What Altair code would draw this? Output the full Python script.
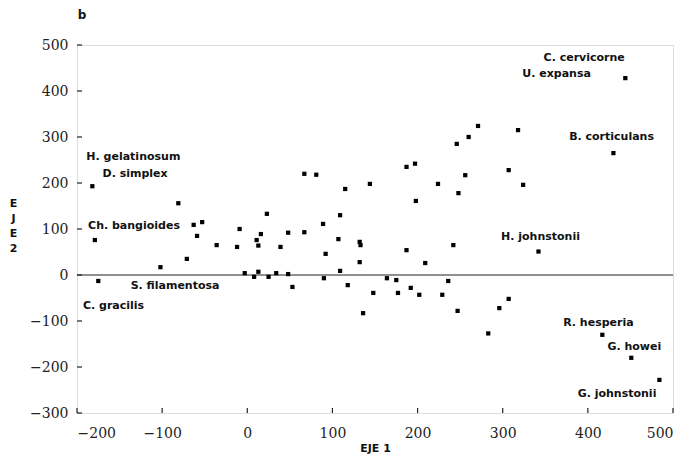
import altair as alt
import pandas as pd

# --- data ---
eje1 = [-182, -179, -175, -102, -81, -71, -63, -59, -53, -36, -12, -9, -3, 8, 13, 11, 13, 16, 23, 25,
        34, 39, 48, 48, 53, 67, 67, 81, 89, 92, 90, 109, 107, 109, 115, 118, 132, 133, 132, 144,
        148, 136, 164, 175, 177, 187, 187, 192, 197, 198, 202, 209, 224, 229, 236, 242, 248, 247,
        246, 256, 260, 271, 283, 296, 307, 307, 318, 324, 342, 417, 430, 444, 451, 484]
eje2 = [193, 76, -13, 17, 156, 35, 109, 85, 115, 65, 61, 100, 4, -4, 7, 76, 64, 89, 133, -4,
        4, 61, 92, 2, -26, 220, 93, 218, 111, 46, -7, 130, 78, 9, 187, -22, 72, 65, 28, 198,
        -39, -83, -7, -11, -39, 235, 54, -28, 242, 161, -43, 26, 198, -43, -13, 65, 178, -78,
        285, 217, 300, 324, -127, -72, -52, 228, 315, 196, 51, -130, 265, 428, -180, -228]

species = ["H. gelatinosum", "D. simplex", "Ch. bangioides", "S. filamentosa", "C. gracilis",
           "C. cervicorne", "U. expansa", "B. corticulans", "H. johnstonii", "R. hesperia",
           "G. howei", "G. johnstonii"]
label_x = [-189, -170, -187, -137, -193, 348, 323, 378, 298, 371, 423, 388]
label_y = [257, 220, 107, -24, -67, 472, 437, 300, 83, -104, -156, -259]

x_ticks = [-200, -100, 0, 100, 200, 300, 400, 500]
y_ticks = [-300, -200, -100, 0, 100, 200, 300, 400, 500]

W, H = 596, 368

pts = pd.DataFrame({"eje1": eje1, "eje2": eje2})
labs = pd.DataFrame({"name": species, "lx": label_x, "ly": label_y})
xt = pd.DataFrame({"t": x_ticks})
yt = pd.DataFrame({"t": y_ticks})
zero = pd.DataFrame({"z": [0]})

xscale = alt.Scale(domain=[-200, 500], nice=False, zero=False)
yscale = alt.Scale(domain=[-300, 500], nice=False, zero=False)

tick_font = "DejaVu Serif"
lab_font = "DejaVu Sans"

xaxis = alt.Axis(values=x_ticks, title="EJE 1", grid=False, domain=False, ticks=False,
                 labelFont=tick_font, labelFontSize=14, labelColor="#222", labelPadding=13,
                 titleFont=lab_font, titleFontSize=11, titleFontWeight="bold", titleColor="#111",
                 titleY=29, titleBaseline="top")
yaxis = alt.Axis(values=y_ticks, title=["E", "J", "E", "2"], grid=False, domain=False, ticks=False,
                 labelFont=tick_font, labelFontSize=14, labelColor="#222", labelPadding=9,
                 titleFont=lab_font, titleFontSize=11, titleFontWeight="bold", titleColor="#111",
                 titleAngle=0, titleX=-64, titleY=152, titleBaseline="top", titleAlign="center",
                 titleLineHeight=15)

points = alt.Chart(pts).mark_square(size=18, color="black", opacity=1).encode(
    x=alt.X("eje1:Q", scale=xscale, axis=xaxis),
    y=alt.Y("eje2:Q", scale=yscale, axis=yaxis),
)

labels = alt.Chart(labs).mark_text(
    align="left", baseline="middle", font=lab_font, fontSize=11, fontWeight="bold", color="#111"
).encode(
    x=alt.X("lx:Q", scale=xscale),
    y=alt.Y("ly:Q", scale=yscale),
    text="name:N",
)

zline = alt.Chart(zero).mark_rule(color="#222", strokeWidth=1.2).encode(
    y=alt.Y("z:Q", scale=yscale)
)

xticks = alt.Chart(xt).mark_rule(color="#222", strokeWidth=1.2).encode(
    x=alt.X("t:Q", scale=xscale), y=alt.value(H), y2=alt.value(H - 5)
)
yticks = alt.Chart(yt).mark_rule(color="#222", strokeWidth=1.2).encode(
    y=alt.Y("t:Q", scale=yscale), x=alt.value(0), x2=alt.value(5)
)

panel = alt.Chart(pd.DataFrame({"p": ["b"]})).mark_text(
    align="center", baseline="middle", font=lab_font, fontSize=12, fontWeight="bold", color="#111"
).encode(x=alt.value(5), y=alt.value(-30), text="p:N")

chart = alt.layer(zline, xticks, yticks, points, labels, panel).properties(
    width=W, height=H,
    autosize=alt.AutoSizeParams(type="none"),
    padding={"left": 69, "top": 37, "right": 10, "bottom": 46},
).configure_view(stroke="#111", strokeWidth=1.3).configure(background="white")

chart.save("out.html", embed_options={"renderer": "svg", "actions": False})
